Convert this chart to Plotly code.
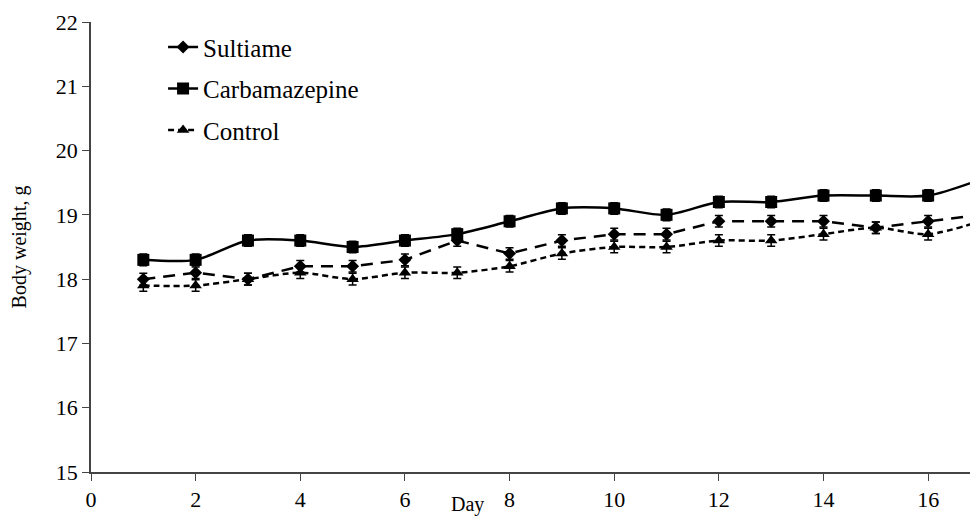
import plotly.graph_objects as go

days = list(range(1, 18))
sultiame = [18.0, 18.1, 18.0, 18.2, 18.2, 18.3, 18.6, 18.4, 18.6, 18.7, 18.7, 18.9, 18.9, 18.9, 18.8, 18.9, 19.0]
carbamazepine = [18.3, 18.3, 18.6, 18.6, 18.5, 18.6, 18.7, 18.9, 19.1, 19.1, 19.0, 19.2, 19.2, 19.3, 19.3, 19.3, 19.55]
control = [17.9, 17.9, 18.0, 18.1, 18.0, 18.1, 18.1, 18.2, 18.4, 18.5, 18.5, 18.6, 18.6, 18.7, 18.8, 18.7, 18.9]
sultiame_err = [0.09] * 17
carbamazepine_err = [0.09] * 17
control_err = [0.09] * 17

FONT = "Liberation Serif"

fig = go.Figure()

def add(name, y, err, symbol, size, dash, shape):
    fig.add_trace(go.Scatter(
        x=days, y=y, name=name, mode="lines+markers", legendgroup=name,
        line=dict(color="black", width=2.5, dash=dash, shape=shape, smoothing=0.8),
        marker=dict(symbol=symbol, size=size, color="black"),
        error_y=dict(type="data", array=err, visible=True, color="black", thickness=1.5, width=4),
    ))

add("Sultiame", sultiame, sultiame_err, "diamond", 10, "12px,8px", "linear")
add("Carbamazepine", carbamazepine, carbamazepine_err, "square", 12, "solid", "spline")
add("Control", control, control_err, "triangle-up", 11, "6px,4px", "spline")

fig.update_layout(
    template="none",
    width=970, height=517,
    margin=dict(l=91, r=0, t=22, b=45),
    paper_bgcolor="white", plot_bgcolor="white",
    font=dict(family=FONT, size=20, color="black"),
    showlegend=True,
    legend=dict(x=0.082, y=0.995, xanchor="left", yanchor="top",
                font=dict(family=FONT, size=25, color="black"),
                bgcolor="rgba(0,0,0,0)", itemwidth=30, tracegroupgap=6),
    xaxis=dict(range=[0, 16.8], dtick=2, tick0=0, showgrid=False, zeroline=False,
               showline=True, linecolor="#444", linewidth=1.5, ticks="outside",
               ticklen=7, tickcolor="#444",
               tickfont=dict(family=FONT, size=22, color="black")),
    yaxis=dict(range=[15, 22], dtick=1, showgrid=False, zeroline=False,
               showline=True, linecolor="#444", linewidth=1.5, ticks="outside",
               ticklen=7, tickcolor="#444",
               tickfont=dict(family=FONT, size=22, color="black"),
               title=dict(text="Body weight, g", standoff=24, font=dict(family=FONT, size=20))),
    annotations=[dict(text="Day", x=7.2, y=0, xref="x", yref="paper", yanchor="top",
                      yshift=-19, showarrow=False, font=dict(family=FONT, size=20, color="black"))],
)

fig.write_html("out.html")
